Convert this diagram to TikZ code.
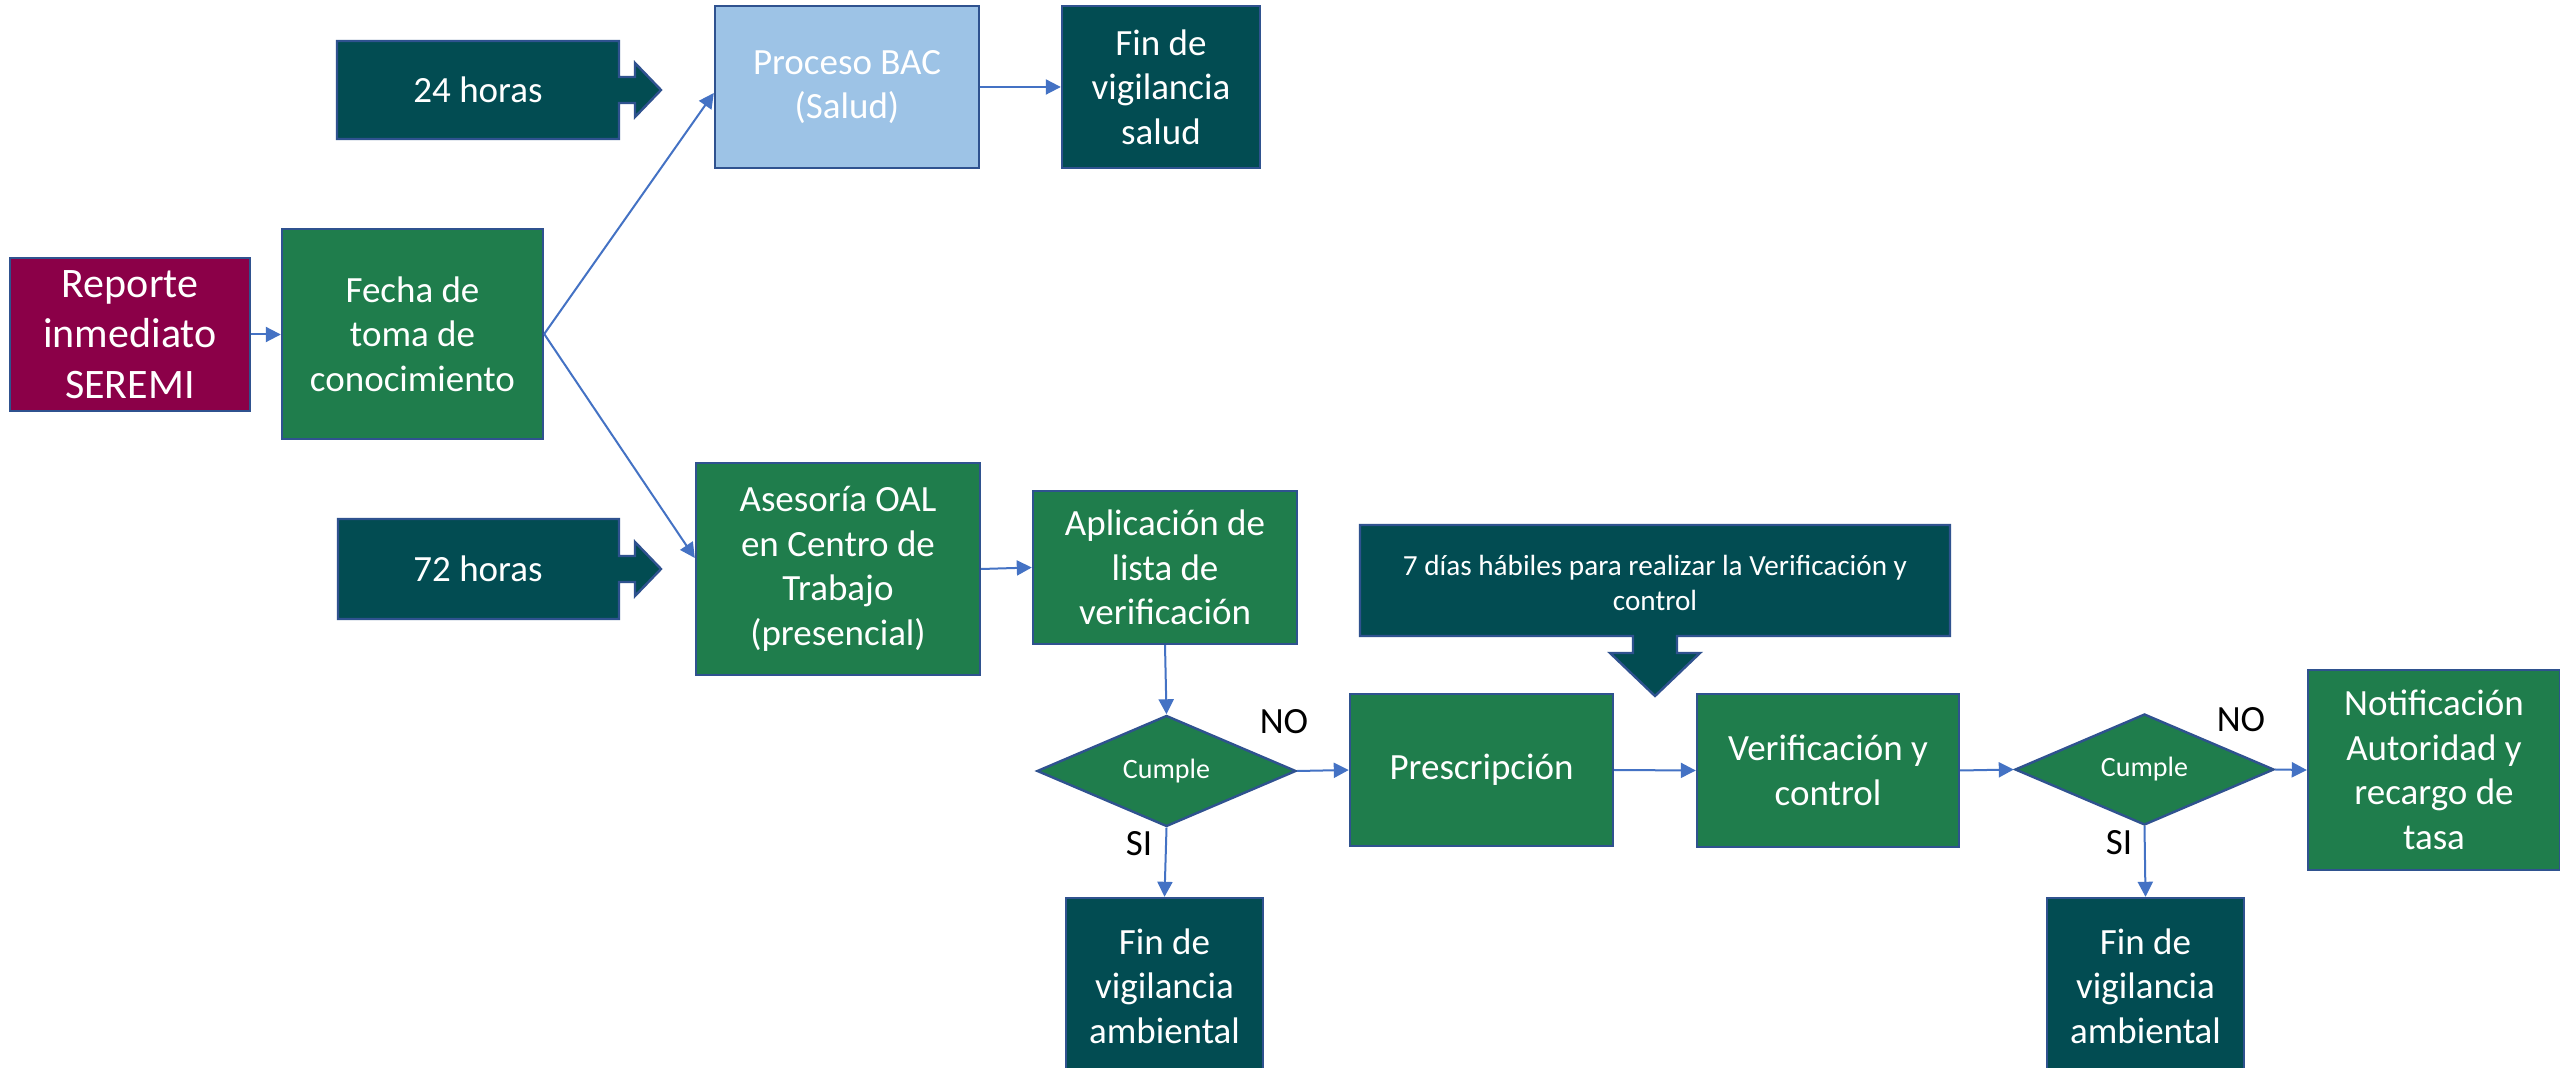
\documentclass[tikz,border=0pt]{standalone}
\usepackage{fontspec}
\setmainfont{Carlito}
\usetikzlibrary{shapes.geometric,arrows.meta}
\definecolor{tealc}{RGB}{2,76,82}
\definecolor{greenc}{RGB}{31,125,76}
\definecolor{maroonc}{RGB}{139,0,72}
\definecolor{lbluec}{RGB}{157,195,230}
\definecolor{bordc}{RGB}{47,82,143}
\definecolor{connc}{RGB}{68,114,196}
\newcommand\fsmain{\fontsize{18.5}{22.3}\selectfont}
\newcommand\fsbig{\fontsize{21}{25.3}\selectfont}
\newcommand\fssmall{\fontsize{14.6}{17.5}\selectfont}
\newcommand\fsdia{\fontsize{14}{17}\selectfont}
\begin{document}
\begin{tikzpicture}[x=0.5pt,y=-0.5pt,
  box/.style={draw=bordc, line width=1.2pt, text=white, align=center, inner sep=0pt, font=\fsmain},
  gbox/.style={box, fill=greenc},
  tbox/.style={box, fill=tealc},
  dia/.style={diamond, draw=bordc, line width=1.2pt, fill=greenc, text=white, inner sep=0pt, font=\fsdia},
  callout/.style={draw=bordc, line width=1.2pt, fill=tealc, line join=miter},
  txt/.style={text=white, align=center, inner sep=0pt, font=\fsmain},
  lbl/.style={text=black, inner sep=0pt, font=\fsmain},
  conn/.style={draw=connc, line width=1pt, -{Triangle[length=7.5pt,width=7.5pt]}}]
\useasboundingbox (0,0) rectangle (2560,1068);
\clip (0,0) rectangle (2560,1068);
\fill[white] (0,0) rectangle (2560,1068);

% callouts
\draw[callout] (337,41) -- (619,41) -- (619,77) -- (635,77) -- (635,63) -- (661,90)
  -- (635,117) -- (635,103) -- (619,103) -- (619,139) -- (337,139) -- cycle;
\node[txt] (h24) at (478,90) {24 horas};
\draw[callout] (338,519) -- (619,519) -- (619,556) -- (635,556) -- (635,542) -- (661,569)
  -- (635,596) -- (635,582) -- (619,582) -- (619,619) -- (338,619) -- cycle;
\node[txt] (h72) at (478,569) {72 horas};
\draw[callout] (1360,525) -- (1950,525) -- (1950,636) -- (1677,636) -- (1677,653) -- (1700,653)
  -- (1655,696) -- (1610,653) -- (1633,653) -- (1633,636) -- (1360,636) -- cycle;
\node[txt, font=\fssmall] (dias) at (1655,583) {7 días hábiles para realizar la Verificación y\\control};

% boxes
\node[box, fill=maroonc, font=\fsbig, minimum width=120pt, minimum height=76.5pt] (rep) at (130,334.5) {Reporte\\inmediato\\SEREMI};
\node[gbox, minimum width=130.5pt, minimum height=105pt] (fecha) at (412.5,334) {Fecha de\\toma de\\conocimiento};
\node[box, fill=lbluec, minimum width=132pt, minimum height=81pt] (bac) at (847,87) {Proceso BAC\\(Salud)};
\node[tbox, minimum width=99pt, minimum height=81pt] (fins) at (1161,87) {Fin de\\vigilancia\\salud};
\node[gbox, minimum width=142pt, minimum height=106pt] (ases) at (838,569) {Asesoría OAL\\en Centro de\\Trabajo\\(presencial)};
\node[gbox, minimum width=132pt, minimum height=76.5pt] (apl) at (1165,567.5) {Aplicación de\\lista de\\verificación};
\node[dia, minimum width=129.5pt, minimum height=53pt] (d1) at (1166.5,771) {Cumple};
\node[gbox, minimum width=131.5pt, minimum height=76pt] (pres) at (1481.5,770) {Prescripción};
\node[gbox, minimum width=131pt, minimum height=76.5pt] (ver) at (1828,770.5) {Verificación y\\control};
\node[dia, minimum width=129.5pt, minimum height=52.5pt] (d2) at (2144.5,769.5) {Cumple};
\node[gbox, minimum width=126pt, minimum height=100pt] (noti) at (2434,770) {Notificación\\Autoridad y\\recargo de\\tasa};
\node[tbox, minimum width=98.5pt, minimum height=88pt] (fin1) at (1164.5,986) {Fin de\\vigilancia\\ambiental};
\node[tbox, minimum width=98.5pt, minimum height=88pt] (fin2) at (2145.5,986) {Fin de\\vigilancia\\ambiental};

% labels
\node[lbl] (no1) at (1284,722) {NO};
\node[lbl] (no2) at (2241,720) {NO};
\node[lbl] (si1) at (1139,844) {SI};
\node[lbl] (si2) at (2119,843) {SI};

% connectors
\draw[conn] (rep.east) -- (rep.east -| fecha.west);
\draw[conn] (fecha.east) -- ([yshift=-3pt]bac.west);
\draw[conn] (fecha.east) -- ([yshift=5.5pt]ases.west);
\draw[conn] (bac.east) -- (fins.west);
\draw[conn] (ases.east) -- (apl.west);
\draw[conn] (apl.south) -- (d1.north);
\draw[conn] (d1.south) -- (fin1.north);
\draw[conn] (d1.east) -- (pres.west);
\draw[conn] (pres.east) -- (ver.west);
\draw[conn] (ver.east) -- (d2.west);
\draw[conn] (d2.east) -- (noti.west);
\draw[conn] (d2.south) -- (fin2.north);
\end{tikzpicture}
\end{document}
